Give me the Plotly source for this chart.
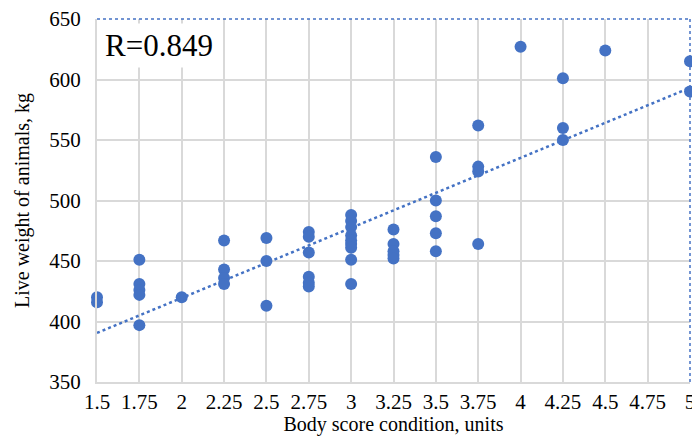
import numpy as np
import plotly.graph_objects as go

# Body score condition (units) and live weight (kg)
bcs = [1.5, 1.5,
       1.75, 1.75, 1.75, 1.75, 1.75,
       2.0,
       2.25, 2.25, 2.25, 2.25,
       2.5, 2.5, 2.5,
       2.75, 2.75, 2.75, 2.75, 2.75, 2.75,
       3.0, 3.0, 3.0, 3.0, 3.0, 3.0, 3.0, 3.0, 3.0,
       3.25, 3.25, 3.25, 3.25, 3.25,
       3.5, 3.5, 3.5, 3.5, 3.5,
       3.75, 3.75, 3.75, 3.75,
       4.0,
       4.25, 4.25, 4.25,
       4.5,
       5.0, 5.0]
weight = [420, 416,
          451, 431, 426, 422, 397,
          420,
          467, 443, 436, 431,
          469, 450, 413,
          474, 470, 457, 437, 432, 429,
          488, 483, 478, 471, 467, 464, 461, 451, 431,
          476, 464, 458, 455, 452,
          536, 500, 487, 473, 458,
          562, 528, 524, 464,
          627,
          601, 560, 550,
          624,
          615, 590]

x_ticks = [1.5, 1.75, 2, 2.25, 2.5, 2.75, 3, 3.25, 3.5, 3.75, 4, 4.25, 4.5, 4.75, 5]
x_tick_text = ["1.5", "1.75", "2", "2.25", "2.5", "2.75", "3", "3.25", "3.5", "3.75",
               "4", "4.25", "4.5", "4.75", "5"]
y_ticks = [350, 400, 450, 500, 550, 600, 650]
r_label = "R=0.849"

BLUE = "#4472C4"
GRID = "#d9d9d9"
FONT = "Liberation Serif, Times New Roman, serif"

slope, intercept = np.polyfit(bcs, weight, 1)
trend_x = [1.5, 5.0]
trend_y = [slope * v + intercept for v in trend_x]

fig = go.Figure()
fig.add_trace(go.Scatter(x=trend_x, y=trend_y, mode="lines",
                         line=dict(color=BLUE, width=2.5, dash="dot"),
                         hoverinfo="skip", showlegend=False))
fig.add_trace(go.Scatter(x=bcs, y=weight, mode="markers",
                         marker=dict(color=BLUE, size=12),
                         cliponaxis=False, showlegend=False))

fig.update_layout(
    width=692, height=436,
    margin=dict(l=97, r=2, t=19, b=54, autoexpand=False),
    paper_bgcolor="white", plot_bgcolor="white",
    font=dict(family=FONT, size=21, color="black"),
    xaxis=dict(range=[1.5, 5], tickvals=x_ticks, ticktext=x_tick_text,
               showgrid=True, gridcolor=GRID, gridwidth=2,
               showline=True, linecolor=GRID, linewidth=2,
               zeroline=False, ticks="", ticklabelstandoff=0,
               ticklabeloverflow="allow", automargin=False,
               title=dict(text="Body score condition, units", font=dict(size=20), standoff=6)),
    yaxis=dict(range=[350, 650], tickvals=y_ticks,
               showgrid=True, gridcolor=GRID, gridwidth=2,
               showline=True, linecolor=GRID, linewidth=2,
               zeroline=False, ticks="", ticklabelstandoff=10, automargin=False,
               title=dict(text="Live weight of animals, kg", font=dict(size=20), standoff=14)),
    shapes=[
        dict(type="line", xref="paper", yref="paper", x0=0, x1=1, y0=1, y1=1,
             line=dict(color=BLUE, width=1.5, dash="dot")),
        dict(type="line", xref="paper", yref="paper", x0=1, x1=1, y0=0, y1=1,
             line=dict(color=BLUE, width=1.5, dash="dot")),
    ],
    annotations=[dict(text=r_label, xref="paper", yref="paper", x=0.0, y=0.99,
                      xanchor="left", yanchor="top", showarrow=False,
                      font=dict(size=31, family=FONT, color="black"),
                      bgcolor="white", borderpad=4, xshift=3)],
)

fig.write_html("out.html")
